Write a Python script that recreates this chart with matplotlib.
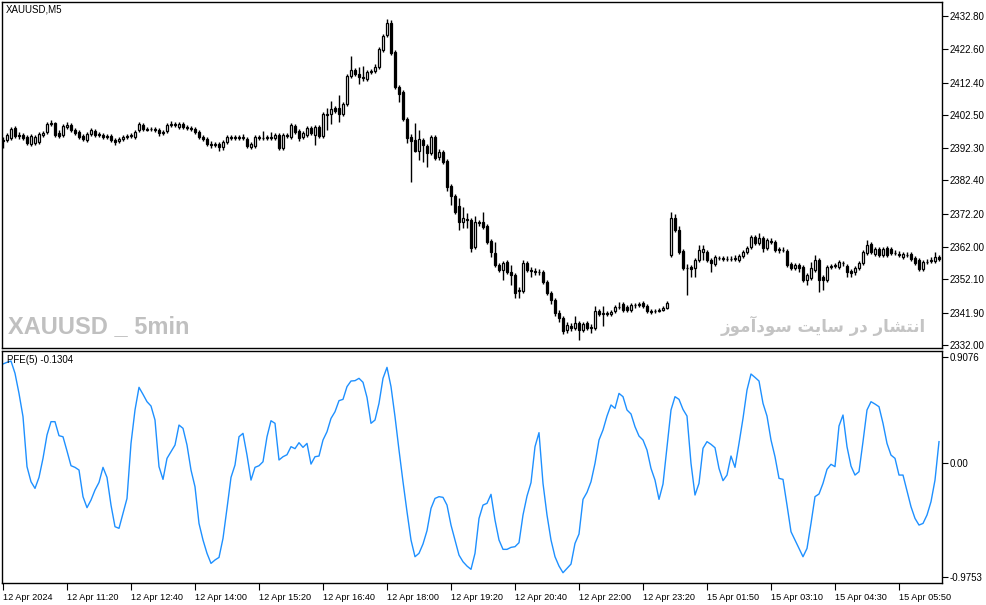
import matplotlib
matplotlib.use('Agg')
import matplotlib.pyplot as plt

# XAUUSD M5 candles, 12 Apr 10:00 .. 15 Apr
opens = [
    2394.8, 2394.8, 2395.4, 2398.5, 2396.3, 2396.3, 2395.7, 2393.6, 2393.9, 2394.2,
    2396.3, 2397.3, 2399.7, 2400.0, 2397.0, 2396.3, 2398.8, 2399.4, 2397.9, 2397.3,
    2396.0, 2394.8, 2396.6, 2397.6, 2396.6, 2396.3, 2396.0, 2396.0, 2394.8, 2394.5,
    2395.1, 2395.7, 2396.0, 2395.7, 2397.9, 2399.4, 2398.2, 2398.2, 2398.2, 2397.9,
    2397.0, 2397.6, 2399.4, 2399.7, 2398.8, 2399.7, 2398.8, 2398.5, 2398.2, 2397.3,
    2395.7, 2395.1, 2393.6, 2393.3, 2393.6, 2392.7, 2394.2, 2395.7, 2395.4, 2395.7,
    2395.4, 2395.1, 2392.7, 2393.0, 2395.7, 2395.4, 2395.4, 2395.7, 2395.4, 2396.3,
    2392.4, 2396.3, 2395.7, 2399.1, 2397.6, 2395.7, 2396.3, 2398.5, 2396.3, 2398.8,
    2396.0, 2402.8, 2402.8, 2404.6, 2404.6, 2402.8, 2405.8, 2414.4, 2416.3, 2415.0,
    2414.1, 2413.5, 2415.6, 2415.9, 2417.2, 2422.4, 2427.0, 2430.7, 2421.8, 2411.0,
    2409.5, 2401.2, 2395.7, 2394.8, 2391.4, 2394.8, 2393.0, 2390.8, 2395.7, 2389.6,
    2391.1, 2388.4, 2380.7, 2377.7, 2374.6, 2369.7, 2370.6, 2370.3, 2362.0, 2369.7,
    2369.7, 2368.5, 2363.9, 2360.2, 2356.5, 2355.0, 2357.4, 2354.4, 2353.5, 2348.5,
    2348.5, 2357.1, 2355.0, 2354.7, 2354.4, 2354.4, 2351.3, 2347.9, 2345.8, 2341.8,
    2340.3, 2336.6, 2337.8, 2337.2, 2338.7, 2336.6, 2338.7, 2337.5, 2337.2, 2342.4,
    2341.5, 2341.8, 2341.5, 2342.4, 2343.6, 2344.6, 2343.6, 2342.7, 2344.3, 2344.3,
    2344.9, 2344.0, 2342.4, 2342.4, 2342.4, 2342.7, 2343.3, 2359.6, 2370.9, 2367.2,
    2360.8, 2355.6, 2355.9, 2355.6, 2358.0, 2360.5, 2360.5, 2358.0, 2356.8, 2358.7,
    2358.7, 2358.4, 2358.4, 2358.4, 2358.0, 2359.3, 2360.5, 2362.0, 2365.1, 2363.3,
    2364.8, 2361.7, 2363.9, 2363.6, 2361.4, 2361.1, 2360.8, 2356.8, 2355.6, 2356.5,
    2355.9, 2351.9, 2352.5, 2355.0, 2358.0, 2352.8, 2351.9, 2355.9, 2356.2, 2355.9,
    2357.1, 2356.2, 2354.7, 2354.4, 2355.6, 2357.1, 2360.2, 2362.9, 2359.9, 2361.4,
    2359.6, 2361.7, 2361.4, 2360.2, 2359.9, 2359.0, 2359.6, 2359.9, 2358.7, 2358.0,
    2355.3, 2357.4, 2357.7, 2357.7, 2359.0,
]
highs = [
    2395.7, 2397.0, 2398.8, 2399.1, 2397.3, 2397.0, 2396.3, 2396.6, 2396.3, 2397.3,
    2397.6, 2400.3, 2400.9, 2400.3, 2397.9, 2399.7, 2400.3, 2400.0, 2398.5, 2397.9,
    2396.6, 2397.3, 2398.5, 2398.2, 2397.3, 2397.0, 2396.6, 2396.6, 2395.4, 2395.7,
    2396.3, 2396.6, 2397.0, 2397.9, 2400.3, 2400.0, 2398.8, 2398.8, 2398.8, 2398.5,
    2397.9, 2400.0, 2400.6, 2400.3, 2400.3, 2400.3, 2399.4, 2399.1, 2398.8, 2397.9,
    2396.3, 2395.7, 2394.5, 2394.2, 2394.2, 2394.8, 2396.3, 2396.3, 2396.3, 2396.3,
    2396.6, 2395.7, 2394.2, 2396.3, 2396.3, 2397.6, 2396.3, 2397.3, 2397.0, 2397.0,
    2397.0, 2397.0, 2400.0, 2399.7, 2398.2, 2397.6, 2399.1, 2399.1, 2399.4, 2399.4,
    2403.4, 2404.6, 2406.8, 2405.2, 2408.6, 2406.5, 2415.0, 2420.5, 2416.9, 2417.2,
    2417.5, 2416.3, 2416.5, 2418.1, 2423.3, 2427.3, 2431.9, 2431.6, 2422.4, 2411.7,
    2410.1, 2401.9, 2396.6, 2400.0, 2397.9, 2395.4, 2393.6, 2396.3, 2396.3, 2392.1,
    2391.7, 2389.0, 2381.3, 2378.3, 2377.0, 2374.3, 2372.4, 2370.9, 2371.5, 2370.3,
    2372.7, 2369.1, 2364.5, 2363.6, 2357.1, 2357.7, 2358.0, 2356.5, 2354.1, 2349.8,
    2358.0, 2357.7, 2355.9, 2355.6, 2355.3, 2355.0, 2351.9, 2348.5, 2346.4, 2342.7,
    2340.9, 2339.0, 2338.7, 2340.9, 2339.4, 2339.0, 2339.4, 2338.4, 2344.0, 2343.0,
    2344.0, 2342.4, 2342.7, 2344.3, 2345.2, 2345.2, 2344.3, 2344.9, 2344.9, 2345.2,
    2345.5, 2344.6, 2343.0, 2343.0, 2343.3, 2344.0, 2345.5, 2372.7, 2372.1, 2368.5,
    2361.4, 2356.8, 2356.5, 2358.7, 2362.6, 2362.6, 2361.1, 2358.7, 2359.6, 2359.3,
    2359.3, 2359.3, 2359.3, 2359.6, 2359.9, 2361.1, 2362.3, 2365.7, 2365.7, 2366.3,
    2365.4, 2364.8, 2364.8, 2364.2, 2362.0, 2362.0, 2361.4, 2357.4, 2357.1, 2357.1,
    2356.5, 2354.1, 2357.4, 2359.6, 2358.7, 2353.5, 2356.5, 2356.8, 2357.1, 2358.0,
    2357.7, 2356.8, 2355.3, 2356.2, 2357.7, 2361.1, 2364.2, 2363.6, 2362.0, 2362.0,
    2362.0, 2362.3, 2362.0, 2361.1, 2360.8, 2360.5, 2360.5, 2360.5, 2359.3, 2358.7,
    2358.0, 2358.4, 2359.0, 2360.5, 2359.6,
]
lows = [
    2392.4, 2394.2, 2394.8, 2395.4, 2395.1, 2394.8, 2393.3, 2393.0, 2393.3, 2393.6,
    2395.7, 2396.6, 2399.1, 2395.7, 2395.4, 2395.7, 2398.2, 2397.3, 2396.3, 2395.1,
    2394.5, 2394.2, 2396.0, 2395.7, 2395.7, 2395.1, 2395.1, 2394.2, 2393.3, 2393.9,
    2394.5, 2395.1, 2395.4, 2395.1, 2397.3, 2397.6, 2397.6, 2397.6, 2397.3, 2396.0,
    2396.3, 2397.0, 2398.8, 2398.8, 2398.2, 2398.2, 2397.9, 2397.6, 2396.6, 2395.1,
    2394.5, 2393.0, 2392.4, 2392.7, 2391.4, 2391.7, 2393.6, 2394.8, 2394.8, 2394.8,
    2394.8, 2392.4, 2392.1, 2392.4, 2394.8, 2394.8, 2394.8, 2394.8, 2394.8, 2391.7,
    2391.7, 2395.4, 2395.1, 2396.6, 2394.5, 2395.1, 2395.7, 2396.3, 2393.3, 2395.4,
    2395.4, 2397.9, 2399.7, 2403.1, 2400.3, 2402.2, 2405.2, 2413.8, 2414.4, 2412.0,
    2412.9, 2412.9, 2415.0, 2415.3, 2416.6, 2421.8, 2426.4, 2420.8, 2410.4, 2406.5,
    2400.6, 2393.9, 2381.9, 2391.1, 2388.7, 2388.1, 2386.5, 2390.2, 2388.7, 2388.7,
    2387.5, 2379.2, 2374.9, 2372.1, 2367.2, 2367.9, 2367.9, 2360.5, 2361.4, 2368.5,
    2367.5, 2362.9, 2359.0, 2355.9, 2354.4, 2351.9, 2353.8, 2350.4, 2346.4, 2346.4,
    2347.9, 2354.4, 2352.8, 2353.5, 2353.5, 2350.7, 2347.3, 2344.6, 2340.9, 2339.0,
    2335.4, 2335.7, 2336.3, 2336.6, 2333.5, 2336.0, 2336.6, 2335.7, 2336.6, 2340.9,
    2337.8, 2340.9, 2340.9, 2341.8, 2343.0, 2342.1, 2342.1, 2342.1, 2343.3, 2343.6,
    2343.3, 2341.8, 2341.5, 2341.8, 2342.1, 2342.4, 2343.0, 2359.0, 2366.6, 2359.9,
    2355.0, 2347.3, 2352.8, 2352.8, 2357.4, 2358.0, 2357.4, 2354.4, 2356.2, 2358.0,
    2357.7, 2357.7, 2357.7, 2357.7, 2357.4, 2358.7, 2359.9, 2361.4, 2362.6, 2362.6,
    2360.5, 2361.1, 2362.9, 2360.5, 2360.2, 2360.5, 2355.9, 2355.0, 2355.0, 2354.4,
    2351.3, 2350.4, 2351.9, 2354.4, 2348.2, 2348.9, 2351.3, 2355.3, 2355.6, 2355.3,
    2356.2, 2352.8, 2352.8, 2353.5, 2355.0, 2356.5, 2359.6, 2359.9, 2359.3, 2359.0,
    2359.0, 2359.0, 2359.6, 2359.6, 2359.0, 2358.4, 2359.0, 2357.7, 2356.5, 2354.7,
    2354.7, 2356.8, 2357.1, 2357.1, 2357.7,
]
closes = [
    2394.5, 2396.3, 2398.2, 2396.0, 2396.0, 2395.4, 2393.9, 2396.0, 2395.7, 2396.6,
    2397.0, 2399.7, 2400.0, 2396.3, 2396.0, 2399.1, 2399.4, 2397.9, 2397.0, 2395.7,
    2395.1, 2396.6, 2397.9, 2396.3, 2396.3, 2395.7, 2395.7, 2394.8, 2394.2, 2395.1,
    2395.7, 2396.0, 2396.3, 2397.3, 2399.7, 2398.2, 2397.9, 2398.1, 2397.9, 2397.0,
    2397.3, 2399.4, 2399.7, 2399.4, 2399.7, 2398.8, 2398.5, 2398.2, 2397.3, 2395.7,
    2395.1, 2393.6, 2393.3, 2393.6, 2392.7, 2394.2, 2395.7, 2395.4, 2395.7, 2395.4,
    2395.7, 2393.0, 2393.6, 2395.7, 2395.4, 2395.3, 2395.7, 2395.4, 2396.3, 2392.4,
    2396.3, 2396.0, 2399.4, 2397.3, 2395.4, 2397.0, 2398.5, 2397.0, 2398.8, 2396.0,
    2402.8, 2402.5, 2404.3, 2403.7, 2402.8, 2405.8, 2414.4, 2416.3, 2415.0, 2414.1,
    2413.8, 2415.6, 2415.9, 2417.2, 2422.7, 2426.7, 2430.7, 2421.5, 2411.0, 2408.9,
    2401.2, 2395.4, 2394.5, 2391.4, 2395.1, 2393.3, 2390.8, 2395.7, 2389.3, 2391.1,
    2388.1, 2380.4, 2377.7, 2372.8, 2369.7, 2370.9, 2370.3, 2361.7, 2369.7, 2369.4,
    2368.2, 2363.6, 2360.5, 2356.5, 2355.0, 2357.1, 2354.4, 2353.5, 2347.9, 2348.8,
    2357.1, 2355.0, 2354.7, 2354.4, 2354.3, 2351.3, 2347.9, 2345.8, 2341.8, 2340.3,
    2336.3, 2338.1, 2337.2, 2338.7, 2336.6, 2338.4, 2337.2, 2337.3, 2342.4, 2341.5,
    2341.8, 2341.5, 2342.1, 2343.6, 2343.5, 2342.7, 2342.7, 2344.3, 2344.2, 2344.6,
    2344.0, 2342.4, 2342.1, 2342.3, 2342.7, 2343.3, 2344.9, 2370.9, 2367.2, 2360.5,
    2355.6, 2355.5, 2355.3, 2358.0, 2361.1, 2361.4, 2358.0, 2357.1, 2359.0, 2358.6,
    2358.4, 2358.3, 2358.5, 2358.7, 2359.3, 2360.5, 2361.7, 2365.1, 2363.3, 2364.8,
    2361.7, 2364.2, 2363.6, 2361.1, 2361.1, 2361.0, 2356.5, 2355.6, 2356.5, 2355.6,
    2351.9, 2353.5, 2355.6, 2358.0, 2351.9, 2351.9, 2355.9, 2356.2, 2356.5, 2357.4,
    2357.0, 2354.4, 2354.1, 2355.6, 2357.1, 2360.5, 2362.6, 2360.5, 2361.4, 2359.6,
    2361.4, 2359.6, 2360.2, 2360.1, 2359.6, 2359.9, 2359.5, 2358.4, 2357.1, 2355.3,
    2357.4, 2357.3, 2358.0, 2359.0, 2358.4,
]

# PFE(5) indicator, one value per candle
pfe = [
    0.848, 0.862, 0.873, 0.768, 0.596, 0.397, -0.031, -0.160, -0.217, -0.123,
    0.040, 0.240, 0.354, 0.354, 0.234, 0.225, 0.103, -0.023, -0.037, -0.060,
    -0.288, -0.382, -0.317, -0.231, -0.166, -0.037, -0.123, -0.360, -0.545, -0.559,
    -0.431, -0.303, 0.168, 0.454, 0.648, 0.588, 0.525, 0.488, 0.368, -0.031,
    -0.140, 0.040, 0.097, 0.154, 0.325, 0.297, 0.154, -0.060, -0.203, -0.517,
    -0.659, -0.773, -0.859, -0.830, -0.808, -0.645, -0.388, -0.123, -0.017, 0.225,
    0.254, 0.068, -0.146, -0.037, -0.023, 0.011, 0.225, 0.362, 0.340, 0.026,
    0.054, 0.071, 0.140, 0.123, 0.174, 0.134, 0.168, -0.009, 0.054, 0.060,
    0.197, 0.268, 0.382, 0.439, 0.534, 0.545, 0.654, 0.702, 0.705, 0.725,
    0.691, 0.562, 0.340, 0.368, 0.511, 0.725, 0.819, 0.654, 0.397, 0.111,
    -0.160, -0.417, -0.659, -0.802, -0.773, -0.693, -0.579, -0.388, -0.303, -0.288,
    -0.294, -0.360, -0.531, -0.659, -0.788, -0.845, -0.882, -0.910, -0.773, -0.474,
    -0.360, -0.345, -0.268, -0.488, -0.659, -0.739, -0.739, -0.722, -0.716, -0.682,
    -0.445, -0.283, -0.168, 0.140, 0.260, -0.174, -0.445, -0.659, -0.802, -0.882,
    -0.939, -0.902, -0.865, -0.688, -0.608, -0.311, -0.251, -0.160, -0.003, 0.197,
    0.283, 0.402, 0.497, 0.468, 0.596, 0.568, 0.454, 0.420, 0.311, 0.231,
    0.197, 0.111, -0.046, -0.146, -0.311, -0.180, 0.140, 0.454, 0.568, 0.545,
    0.459, 0.402, -0.003, -0.274, -0.174, 0.126, 0.183, 0.160, 0.131, -0.046,
    -0.151, -0.103, 0.060, -0.037, 0.168, 0.382, 0.625, 0.762, 0.733, 0.702,
    0.511, 0.402, 0.197, 0.054, -0.131, -0.140, -0.360, -0.588, -0.659, -0.731,
    -0.802, -0.731, -0.517, -0.288, -0.265, -0.174, -0.054, -0.011, -0.031, 0.317,
    0.411, 0.140, -0.026, -0.103, -0.074, 0.183, 0.454, 0.525, 0.505, 0.482,
    0.340, 0.168, 0.068, 0.040, -0.103, -0.103, -0.237, -0.374, -0.474, -0.531,
    -0.517, -0.445, -0.331, -0.146, 0.183,
]

price_ticks = [2432.80, 2422.60, 2412.40, 2402.50, 2392.30, 2382.40,
               2372.20, 2362.00, 2352.10, 2341.90, 2332.00]
pfe_ticks = [0.9076, 0.0, -0.9753]
pfe_tick_labels = ['0.9076', '0.00', '-0.9753']
date_pos = [0, 16, 32, 48, 64, 80, 96, 112, 128, 144, 160, 176, 192, 208, 224]
date_labels = ['12 Apr 2024', '12 Apr 11:20', '12 Apr 12:40', '12 Apr 14:00',
               '12 Apr 15:20', '12 Apr 16:40', '12 Apr 18:00', '12 Apr 19:20',
               '12 Apr 20:40', '12 Apr 22:00', '12 Apr 23:20', '15 Apr 01:50',
               '15 Apr 03:10', '15 Apr 04:30', '15 Apr 05:50']

# "انتشار در سایت سودآموز" written in presentation forms, visual order,
# since matplotlib does no Arabic shaping itself
watermark_fa = ('\uFEAF\uFEEE\uFEE3\uFE81\uFEA9\uFEEE\uFEB3 '
                '\uFE96\uFBFE\uFE8E\uFEB3 \uFEAD\uFEA9 '
                '\uFEAD\uFE8E\uFEB8\uFE98\uFEE7\uFE8D')

plt.rcParams['font.family'] = ['Liberation Sans', 'DejaVu Sans']

W, H = 987, 605
fig = plt.figure(figsize=(W / 100, H / 100), dpi=100)
fig.patch.set_facecolor('white')

left = 2.5 / W
width = (942 - 2.5) / W
ax1 = fig.add_axes([left, 1 - 348 / H, width, 346 / H])
ax2 = fig.add_axes([left, 1 - 583 / H, width, 232 / H])

n = len(closes)
xs = list(range(n))

# candles
for i in xs:
    o, h, l, c = opens[i], highs[i], lows[i], closes[i]
    ax1.vlines(i, l, h, color='black', linewidth=1, zorder=2)
    face = 'white' if c >= o else 'black'
    ax1.bar(i, c - o, bottom=o, width=0.5, facecolor=face,
            edgecolor='black', linewidth=0.9, zorder=3)

ax1.set_xlim(-0.125, 234.75)
ax1.set_ylim(2331.08, 2437.09)
ax1.yaxis.tick_right()
ax1.set_yticks(price_ticks)
ax1.set_yticklabels(['%.2f' % v for v in price_ticks])
ax1.set_xticks([])
ax1.tick_params(axis='y', direction='out', length=4, width=0.8, pad=1.5,
                labelsize=7, colors='black')

# PFE line
ax2.plot(xs, pfe, color='#1E90FF', linewidth=1)
ax2.set_xlim(-0.125, 234.75)
ax2.set_ylim(-1.027, 0.959)
ax2.yaxis.tick_right()
ax2.set_yticks(pfe_ticks)
ax2.set_yticklabels(pfe_tick_labels)
ax2.tick_params(axis='y', direction='out', length=4, width=0.8, pad=1.5,
                labelsize=7)
ax2.set_xticks(date_pos)
ax2.set_xticklabels(date_labels)
ax2.tick_params(axis='x', direction='out', length=5, width=0.8, pad=2,
                labelsize=6.6)
for t in ax2.get_xticklabels():
    t.set_horizontalalignment('left')

for ax in (ax1, ax2):
    for s in ax.spines.values():
        s.set_color('black')
        s.set_linewidth(1)

# labels and watermarks
fig.text(6 / W, 1 - 10 / H, 'XAUUSD,M5', fontsize=7, va='center', ha='left')
fig.text(7 / W, 1 - 360 / H, 'PFE(5) -0.1304', fontsize=7, va='center', ha='left')
ax1.text(8 / W, 1 - 327 / H, 'XAUUSD _ 5min', transform=fig.transFigure,
         fontsize=17, fontweight='bold', color='#c0c0c0',
         va='center', ha='left', zorder=0)
ax1.text(926 / W, 1 - 326 / H, watermark_fa, transform=fig.transFigure,
         fontsize=12, fontweight='bold', color='#c4c4c4', family=['DejaVu Sans'],
         va='center', ha='right', zorder=0)

plt.savefig('out.png', dpi=100)
plt.close()
